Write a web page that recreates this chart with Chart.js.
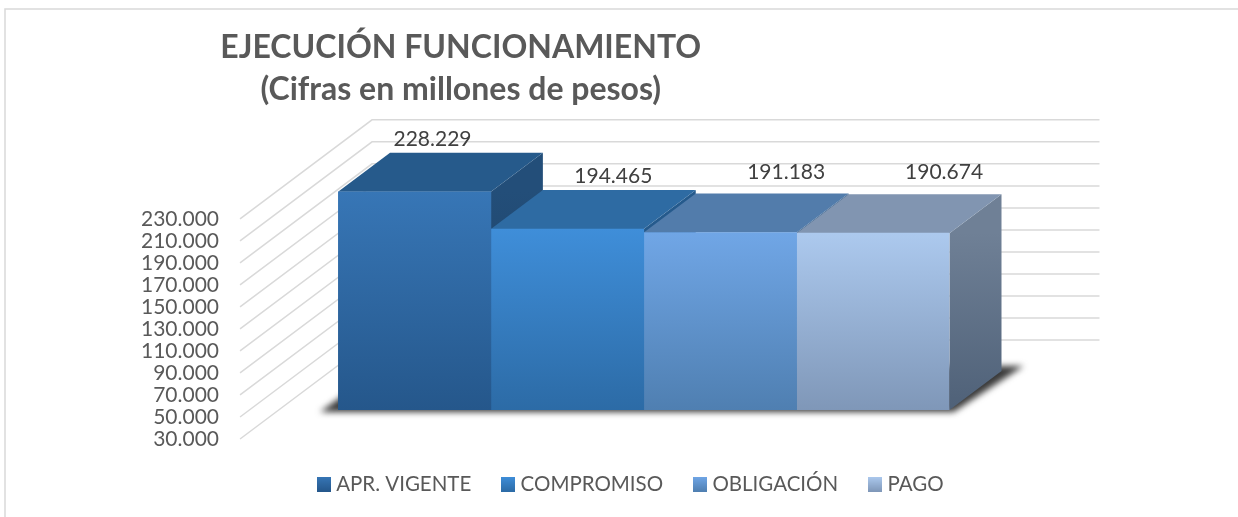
<!DOCTYPE html>
<html>
<head>
<meta charset="utf-8">
<title>Ejecución funcionamiento</title>
<script src="https://cdn.jsdelivr.net/npm/chart.js@4"></script>
<style>
    html, body { margin: 0; padding: 0; background: #fff; }
    #wrap { width: 1238px; height: 517px; }
</style>
</head>
<body>
<div id="wrap"><canvas id="chart" width="1238" height="517"></canvas></div>
<script>
const titleLines = ["EJECUCIÓN FUNCIONAMIENTO", "(Cifras en millones de pesos)"]
const seriesNames = ["APR. VIGENTE", "COMPROMISO", "OBLIGACIÓN", "PAGO"]
const seriesValues = [228229, 194465, 191183, 190674]
const axisMin = 30000
const axisMax = 230000
const axisStep = 20000

const textCol = "#595959"
const labelCol = "#404040"
const gridCol = "#d9d9d9"
const fontName = "Lato, 'Open Sans', sans-serif"

// front, top and side colours of each block
const frontTop = ["#3776b6", "#3f8ed9", "#70a6e6", "#acc9ee"]
const frontBottom = ["#25578b", "#2c6ba6", "#4f7fb1", "#7f97b8"]
const topFace = ["#265a8b", "#2e6ba3", "#527cab", "#8195b1"]
const sideTop = ["#234e79", "#255a8c", "#44698f", "#6f8096"]
const sideBottom = ["#1b3c5e", "#1f4b75", "#3a5a7c", "#4f6178"]

// the 3D look: front plane sits above the axis, depth goes up and right
const plotBottom = 439
const frontLift = 29
const depthX = 52
const depthY = 39
const wallLeft = 98
const wallX = 132
const wallY = 99
const wallRight = 150

// where the value labels sit, relative to the top centre of each block
const labelShiftX = [18, 46, 66, 71]
const labelShiftY = [-53, -53, -60, -61]

const thousands = (v) => String(v).replace(/\B(?=(\d{3})+(?!\d))/g, ".")

const legendBox = (i) => {
    const c = document.createElement("canvas")
    c.width = 14
    c.height = 15
    const g = c.getContext("2d")
    const grad = g.createLinearGradient(0, 0, 0, 15)
    grad.addColorStop(0, frontTop[i])
    grad.addColorStop(1, frontBottom[i])
    g.fillStyle = grad
    g.fillRect(0, 0, 14, 15)
    return c
}

const face = (ctx, pts, fill) => {
    ctx.fillStyle = fill
    ctx.beginPath()
    pts.forEach((p, i) => i ? ctx.lineTo(p[0], p[1]) : ctx.moveTo(p[0], p[1]))
    ctx.closePath()
    ctx.fill()
}

const barsOf = (chart) => chart.getSortedVisibleDatasetMetas().map(m => m.data[0].getProps(["x", "y", "base", "width"], true))

const fake3d = {
    id: "fake3d",
    afterLayout(chart) {
        // stretch the plot down to where the axis ends in the original
        const y = chart.scales.y
        const area = chart.chartArea
        y.bottom = plotBottom
        y.height = plotBottom - y.top
        y.configure()
        area.bottom = plotBottom
        area.height = plotBottom - area.top

        // title and legend are not centred on the plot in the original
        chart.titleBlock.left -= 25
        chart.titleBlock.right -= 25
        chart.legend.left += 147
        chart.legend.right += 147
        chart.legend.top = plotBottom
        chart.legend.bottom = chart.height
    },
    beforeDraw(chart) {
        const ctx = chart.ctx
        ctx.save()
        ctx.strokeStyle = gridCol
        ctx.lineWidth = 1.5
        ctx.beginPath()
        ctx.moveTo(5, 517)
        ctx.lineTo(5, 9)
        ctx.lineTo(1238, 9)
        ctx.stroke()
        ctx.restore()
    },
    beforeDatasetsDraw(chart) {
        const ctx = chart.ctx
        const area = chart.chartArea
        const y = chart.scales.y

        // side wall and back wall lines
        ctx.save()
        ctx.strokeStyle = gridCol
        ctx.lineWidth = 1.5
        y.ticks.forEach(t => {
            const py = y.getPixelForValue(t.value)
            ctx.beginPath()
            ctx.moveTo(area.left - wallLeft, py)
            ctx.lineTo(area.left - wallLeft + wallX, py - wallY)
            ctx.lineTo(area.right + wallRight, py - wallY)
            ctx.stroke()
        })
        ctx.restore()

        const bars = barsOf(chart)
        const first = bars[0]
        const last = bars[bars.length - 1]
        const x0 = first.x - first.width / 2
        const x1 = last.x + last.width / 2
        const base = first.base - frontLift

        // soft shadow on the floor
        ctx.save()
        ctx.filter = "blur(3px)"
        face(ctx, [[x0 - 18, base + 2], [x1 + 4, base + 2], [x1 + 74, base - 44], [x0 + 46, base - 44]], "#3a3a3a")
        ctx.restore()

        ctx.save()
        ctx.translate(0, -frontLift)
        bars.forEach((b, i) => {
            const l = b.x - b.width / 2
            const r = b.x + b.width / 2
            const side = ctx.createLinearGradient(0, b.y, 0, b.base)
            side.addColorStop(0, sideTop[i])
            side.addColorStop(1, sideBottom[i])
            face(ctx, [[r, b.y], [r + depthX, b.y - depthY], [r + depthX, b.base - depthY], [r, b.base]], side)
            face(ctx, [[l, b.y], [l + depthX, b.y - depthY], [r + depthX, b.y - depthY], [r, b.y]], topFace[i])
        })
        // the library draws the front faces after this, inside the same shift
    },
    afterDatasetsDraw(chart) {
        const ctx = chart.ctx
        ctx.restore()
        ctx.save()
        ctx.fillStyle = labelCol
        ctx.font = "21px " + fontName
        ctx.textAlign = "center"
        ctx.textBaseline = "middle"
        barsOf(chart).forEach((b, i) => {
            ctx.fillText(thousands(seriesValues[i]), b.x + labelShiftX[i], b.y - frontLift + labelShiftY[i])
        })
        ctx.restore()
    }
}

const datasets = seriesNames.map((name, i) => ({
    label: name,
    data: [seriesValues[i]],
    base: axisMin,
    backgroundColor(c) {
        const area = c.chart.chartArea
        if (!area) return frontTop[i]
        const y = c.chart.scales.y
        const grad = c.chart.ctx.createLinearGradient(0, y.getPixelForValue(seriesValues[i]), 0, area.bottom)
        grad.addColorStop(0, frontTop[i])
        grad.addColorStop(1, frontBottom[i])
        return grad
    }
}))

new Chart(document.getElementById("chart").getContext("2d"), {
    type: "bar",
    data: { labels: [""], datasets: datasets },
    plugins: [fake3d],
    options: {
        responsive: false,
        animation: false,
        categoryPercentage: 1,
        barPercentage: 1,
        layout: { padding: { left: 22, right: 288.5, top: 0, bottom: 0 } },
        scales: {
            x: { display: false },
            y: {
                min: axisMin,
                max: axisMax,
                border: { display: false },
                grid: { display: false, drawTicks: false },
                ticks: {
                    stepSize: axisStep,
                    autoSkip: false,
                    padding: 119,
                    color: textCol,
                    font: { family: fontName, size: 21 },
                    callback: (v) => thousands(v)
                }
            }
        },
        plugins: {
            tooltip: { enabled: false },
            title: {
                display: true,
                text: titleLines,
                color: textCol,
                font: { family: fontName, size: 32, weight: "bold", lineHeight: 1.31 },
                padding: { top: 27, bottom: 108 }
            },
            legend: {
                display: true,
                position: "bottom",
                labels: {
                    color: textCol,
                    font: { family: fontName, size: 20.5 },
                    usePointStyle: true,
                    boxWidth: 4,
                    boxHeight: 15,
                    padding: 35,
                    generateLabels: () => seriesNames.map((name, i) => ({
                        text: name,
                        fontColor: textCol,
                        pointStyle: legendBox(i),
                        datasetIndex: i,
                        lineWidth: 0
                    }))
                }
            }
        }
    }
})
</script>
</body>
</html>
